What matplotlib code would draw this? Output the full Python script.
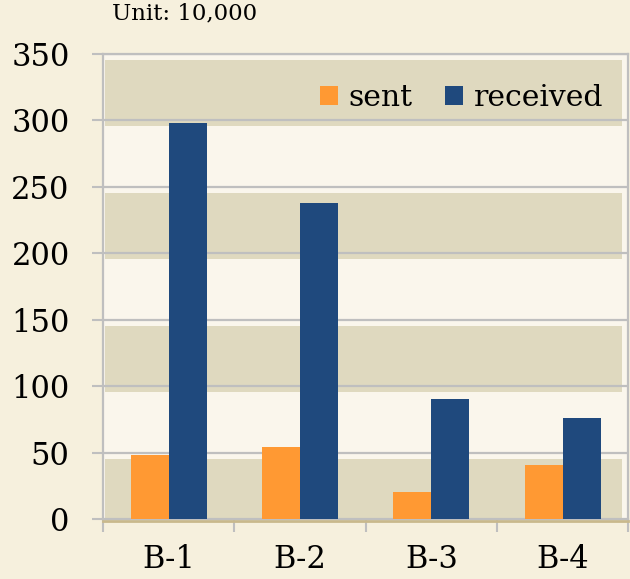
import numpy as np
from matplotlib import pyplot as plt
from matplotlib.ticker import FixedLocator

plt.rcParams['font.family'] = ['DejaVu Serif']

# data (unit: 10,000)
categories = ['B-1', 'B-2', 'B-3', 'B-4']
sent = [48, 54, 20, 41]
received = [298, 238, 90, 76]
yticks = [0, 50, 100, 150, 200, 250, 300, 350]

fig_bg = '#f6f0dd'
plot_bg = '#faf6ec'
band_c = '#dfd9bf'
grid_c = '#bfbfbf'
orange = '#ff9933'
blue = '#1f497d'

fig = plt.figure(figsize=(6.30, 5.79), dpi=100, facecolor=fig_bg)
ax = fig.add_axes([0.1635, 0.1036, 0.834, 0.803])
ax.set_facecolor(plot_bg)

x = np.arange(len(categories))
w = 0.29

# alternating bands, shifted a little down like the original
off = 4.5
for k in range(0, 7, 2):
    lo = max(0, yticks[k] - off)
    hi = yticks[k + 1] - off
    ax.axhspan(lo, hi, xmin=0.004, xmax=0.988, color=band_c, lw=0, zorder=0)

for t in yticks[1:]:
    ax.axhline(t, color=grid_c, lw=1.6, zorder=1)

ax.bar(x - w / 2, sent, w, color=orange, label='sent', zorder=3)
ax.bar(x + w / 2, received, w, color=blue, label='received', zorder=3)

# floor shadow under the x axis
ax.axhline(-1.8, color='#c9b98c', lw=2, clip_on=False, zorder=2)

ax.set_xlim(-0.5, 3.5)
ax.set_ylim(0, 350)
ax.set_yticks(yticks)
ax.set_xticks(x)
ax.set_xticklabels(categories)
ax.xaxis.set_minor_locator(FixedLocator(np.arange(-0.5, 4, 1)))

ax.tick_params(axis='y', length=8, width=1.5, color=grid_c, pad=16, labelsize=22)
ax.tick_params(axis='x', which='major', length=0, pad=18, labelsize=22)
ax.tick_params(axis='x', which='minor', length=9, width=1.5, color=grid_c)

for s in ax.spines.values():
    s.set_color(grid_c)
    s.set_linewidth(1.6)

leg = ax.legend(loc='center right', bbox_to_anchor=(0.975, 0.905), ncol=2, frameon=False,
                fontsize=21.5, handlelength=0.6, handleheight=0.6, handletextpad=0.35,
                columnspacing=1.1, borderaxespad=0)

fig.text(0.178, 0.977, 'Unit: 10,000', fontsize=16.5, va='center', ha='left')

fig.savefig('out.png', dpi=100, facecolor=fig_bg)
